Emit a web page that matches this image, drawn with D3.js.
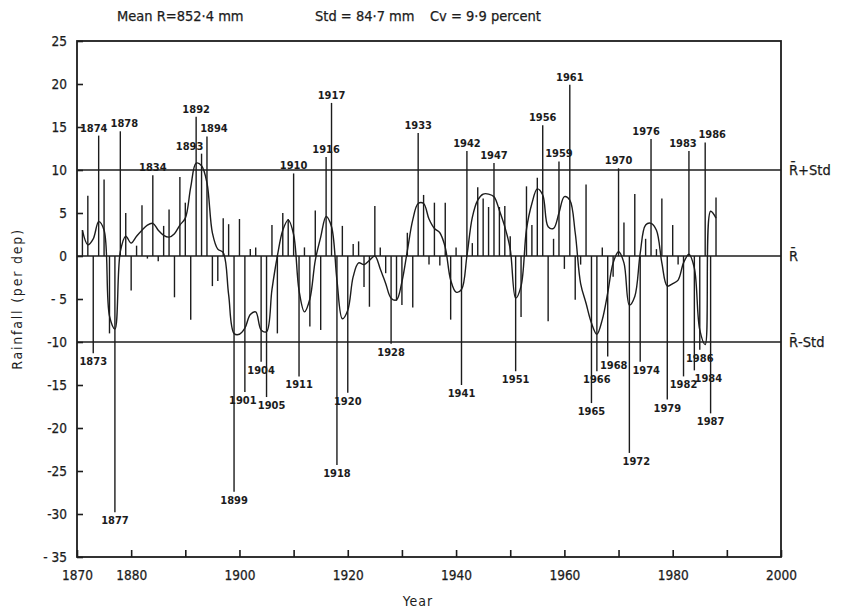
<!DOCTYPE html>
<html>
<head>
<meta charset="utf-8">
<script src="https://cdn.jsdelivr.net/npm/d3@7/dist/d3.min.js"></script>
<style>
  body { margin: 0; background: #fff; }
  text { font-family: "DejaVu Sans Condensed", "DejaVu Sans", sans-serif; fill: #1c1c1c; }
</style>
</head>
<body>
<div id="chart"></div>
<script>
// rainfall departures (per cent), one value a year from firstYear
var firstYear = 1871;
var departures = [
   3.0,  7.0, -11.3, 14.0,  8.9,  -9.0, -29.8, 14.5,  5.0,  -4.0,  // 1871-1880
   1.2,  5.9,  -0.3,  9.4, -0.6,   3.5,   5.4, -4.8,  9.2,   6.2,  // 1881-1890
  -7.4, 16.2,  11.9, 13.9, -3.5,  -2.9,   4.4,  3.7, -27.4,  4.3,  // 1891-1900
 -15.8,  0.8,   1.0,-12.3,-16.4,   3.6,  -9.0,  5.0,  4.3,   9.6,  // 1901-1910
 -14.0,  1.0,  -8.2,  5.3, -8.6,  11.5,  17.8,-24.3,  3.5, -15.9,  // 1911-1920
   1.4,  1.7,  -3.6, -5.9,  5.8,   1.0,  -2.0,-10.2, -5.2,  -5.7,  // 1921-1930
   2.7, -6.0,  14.3,  7.1, -1.0,   6.2,  -1.1,  6.2, -7.4,   1.0,  // 1931-1940
 -15.0, 12.2,   1.5,  8.0,  6.7,   5.7,  10.8,  5.7,  5.8,   2.3,  // 1941-1950
 -13.4, -7.1,   8.1,  3.6,  9.1,  15.2,  -7.6,  2.0, 11.0,  -1.5,  // 1951-1960
  19.9, -5.1,  -1.0,  8.3,-17.1, -13.4,   1.0,-11.7, -2.4,  10.2,  // 1961-1970
   3.9,-22.9,   7.2,-12.3,  2.0,  13.6,   0.8,  6.7,-16.7,   3.6,  // 1971-1980
  -1.0,-14.0,  12.2,-13.3,-10.9,  13.2, -18.3,  6.8                // 1981-1988
];
// smoothed curve, same years
var smoothed = [
   3.0,  1.3,  2.0,  4.0,  3.0, -7.0, -8.5,  0.5,  2.3,  1.5,
   2.3,  3.0,  3.6,  3.8,  3.0,  2.4,  2.2,  2.6,  3.6,  4.4,
   8.0, 10.8, 10.5,  8.5,  2.7,  0.8,  0.4, -4.5, -9.0, -9.1,
  -8.4, -6.8, -6.5, -8.6, -8.8, -3.9,  0.0,  3.0,  4.2,  2.5,
  -4.0, -6.5, -5.0, -0.5,  2.2,  4.6,  3.4, -2.8, -7.3, -6.3,
  -2.4, -0.8, -1.0, -0.5,  0.0, -1.5, -3.2, -4.9, -5.1, -3.0,
   0.6,  4.2,  6.1,  6.1,  4.3,  3.2,  2.7,  1.0, -2.8, -4.2,
  -3.9,  0.0,  4.5,  6.5,  7.2,  7.2,  6.9,  5.3,  3.4,  0.8,
  -4.9, -3.5,  3.1,  6.1,  7.8,  7.1,  3.4,  3.2,  5.0,  6.9,
   6.5,  2.7, -3.2, -5.5, -7.8, -9.1, -7.4, -4.3, -0.8,  0.5,
  -0.8, -5.7, -4.7,  0.3,  3.6,  3.8,  3.0, -0.8, -3.5, -3.2,
  -2.8, -0.8,  0.2, -1.4, -8.6,-10.3,  5.2,  4.4
];

var xTicks = [1870, 1880, 1890, 1900, 1910, 1920, 1930, 1940, 1950, 1960, 1970, 1980, 1990, 2000];
var xTickLabels = [1870, 1880, 1900, 1920, 1940, 1960, 1980, 2000];
var yTicks = [25, 20, 15, 10, 5, 0, -5, -10, -15, -20, -25, -30, -35];
var yTickLabels = ['25', '20', '15', '10', '5', '0', '- 5', '-10', '-15', '-20', '-25', '-30', '- 35'];

var refValues = [10, 0, -10];
var refLabels = ['R\u0304+Std', 'R\u0304', 'R\u0304-Std'];

// years written on the drawing (text as printed)
var labelYears = [1873, 1874, 1877, 1878, 1884, 1892, 1893, 1894, 1899, 1901, 1904, 1905,
                  1910, 1911, 1916, 1917, 1918, 1920, 1928, 1933, 1941, 1942, 1947, 1951,
                  1956, 1959, 1961, 1965, 1966, 1968, 1970, 1972, 1974, 1976, 1979, 1982,
                  1983, 1984, 1985, 1986, 1987];
var labelTexts = ['1873', '1874', '1877', '1878', '1834', '1892', '1893', '1894', '1899', '1901', '1904', '1905',
                  '1910', '1911', '1916', '1917', '1918', '1920', '1928', '1933', '1941', '1942', '1947', '1951',
                  '1956', '1959', '1961', '1965', '1966', '1968', '1970', '1972', '1974', '1976', '1979', '1982',
                  '1983', '1984', '1986', '1986', '1987'];

var header = ['Mean R=852\u00b74 mm', 'Std = 84\u00b77 mm', 'Cv = 9\u00b79 percent'];

var width = 842, height = 616, ink = '#1c1c1c';

// sideways nudges (px) so crowded year labels sit as on the drawing
var labelNudge = { 1874: -5, 1878: 4, 1893: -12, 1894: 7, 1901: -2, 1905: 5, 1968: 6, 1972: 7,
                   1974: 6, 1976: -5, 1983: -6, 1984: 14, 1986: 7 };

var svg = d3.select('#chart').append('svg')
  .attr('width', width)
  .attr('height', height);

var x = d3.scaleLinear().domain([1870, 2000]).range([77, 781]);
var y = d3.scaleLinear().domain([-35, 25]).range([557, 41]);

var years = departures.map(function(d, i) { return firstYear + i; });

// header line
var headerX = [117, 315, 430];
svg.selectAll('.hdr').data(header).enter()
  .append('text')
  .attr('class', 'hdr')
  .attr('x', function(d, i) { return headerX[i]; })
  .attr('y', 21)
  .style('font-size', '14.5px')
  .style('stroke', ink)
  .style('stroke-width', '0.25px')
  .text(function(d) { return d; });

// frame
svg.append('rect')
  .attr('x', x(1870)).attr('y', y(25))
  .attr('width', x(2000) - x(1870))
  .attr('height', y(-35) - y(25))
  .attr('fill', 'none')
  .attr('stroke', ink)
  .attr('stroke-width', 1.8);

// axes
var xAxis = d3.axisBottom(x)
  .tickValues(xTicks)
  .tickSize(-7)
  .tickPadding(13)
  .tickFormat(function(d) { return xTickLabels.indexOf(d) >= 0 ? d : ''; });
var gx = svg.append('g')
  .attr('transform', 'translate(0,' + y(-35) + ')')
  .call(xAxis);

var yAxis = d3.axisLeft(y)
  .tickValues(yTicks)
  .tickSize(-6)
  .tickPadding(10)
  .tickFormat(function(d, i) { return yTickLabels[i]; });
var gy = svg.append('g')
  .attr('transform', 'translate(' + x(1870) + ',0)')
  .call(yAxis);

[gx, gy].forEach(function(g) {
  g.select('.domain').remove();
  g.selectAll('line').attr('stroke', ink).attr('stroke-width', 1.6);
  g.selectAll('text')
    .style('font-size', '13.5px')
    .style('font-family', '"DejaVu Sans Condensed","DejaVu Sans",sans-serif')
    .style('stroke', ink)
    .style('stroke-width', '0.25px')
    .attr('fill', ink);
});

svg.append('text')
  .attr('x', 418).attr('y', 606)
  .attr('text-anchor', 'middle')
  .style('font-size', '14px')
  .style('letter-spacing', '1px')
  .text('Year');

svg.append('text')
  .attr('transform', 'translate(22,' + y(-5) + ') rotate(-90)')
  .attr('text-anchor', 'middle')
  .style('font-size', '14px')
  .style('letter-spacing', '1.8px')
  .text('Rainfall (per dep)');

// mean and mean +/- std lines
svg.selectAll('.ref').data(refValues).enter()
  .append('line')
  .attr('class', 'ref')
  .attr('x1', x(1870)).attr('x2', x(2000))
  .attr('y1', function(d) { return y(d); })
  .attr('y2', function(d) { return y(d); })
  .attr('stroke', ink)
  .attr('stroke-width', 1.7);

svg.selectAll('.reflbl').data(refValues).enter()
  .append('text')
  .attr('class', 'reflbl')
  .attr('x', x(2000) + 8)
  .attr('y', function(d) { return y(d) + 5; })
  .style('font-size', '14.5px')
  .style('stroke', ink)
  .style('stroke-width', '0.25px')
  .text(function(d, i) { return refLabels[i]; });

// yearly bars
svg.selectAll('.bar').data(departures).enter()
  .append('line')
  .attr('class', 'bar')
  .attr('x1', function(d, i) { return x(years[i]); })
  .attr('x2', function(d, i) { return x(years[i]); })
  .attr('y1', y(0))
  .attr('y2', function(d) { return y(d); })
  .attr('stroke', ink)
  .attr('stroke-width', 1.4);

// smoothed curve
var line = d3.line()
  .x(function(d, i) { return x(years[i]); })
  .y(function(d) { return y(d); })
  .curve(d3.curveCatmullRom);

svg.append('path')
  .datum(smoothed)
  .attr('d', line)
  .attr('fill', 'none')
  .attr('stroke', ink)
  .attr('stroke-width', 1.4);

// year labels at bar ends
svg.selectAll('.yl').data(labelYears).enter()
  .append('text')
  .attr('class', 'yl')
  .attr('x', function(d) { return x(d) + (labelNudge[d] || 0); })
  .attr('y', function(d) {
    var v = departures[d - firstYear];
    return v > 0 ? y(v) - 4 : y(v) + 12;
  })
  .attr('text-anchor', 'middle')
  .style('font-size', '11px')
  .style('font-weight', 'bold')
  .text(function(d, i) { return labelTexts[i]; });
</script>
</body>
</html>
